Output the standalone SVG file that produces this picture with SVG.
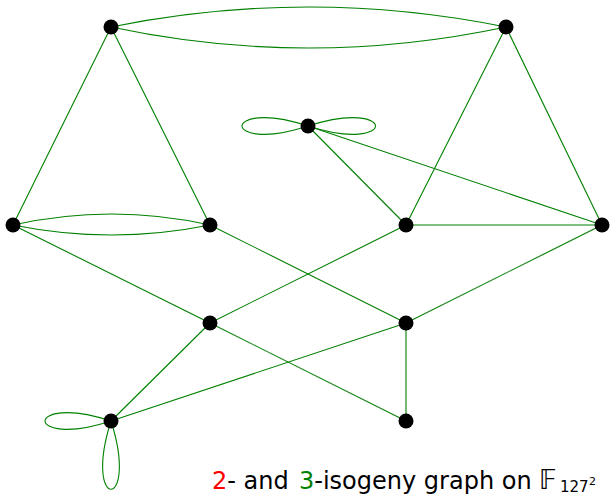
<svg xmlns="http://www.w3.org/2000/svg" width="610" height="497" viewBox="0 0 610 497">
<style>
.e{fill:none;stroke:#008000;stroke-width:1.1}
.n{fill:#000}
.t{font-family:"DejaVu Sans","Liberation Sans",sans-serif;fill:#000}
</style>
<rect width="610" height="497" fill="#fff"/>
<g id="connectors">
<path class="e" d="M111,27 Q308.5,-13 506,27"/>
<path class="e" d="M111,27 Q308.5,69 506,27"/>
<path class="e" d="M111,27 L13,225"/>
<path class="e" d="M111,27 L210,225"/>
<path class="e" d="M506,27 L406,225"/>
<path class="e" d="M506,27 L602,225"/>
<path class="e" d="M308,126 C220,97 220,155 308,126"/>
<path class="e" d="M308,126 C398,97 398,155 308,126"/>
<path class="e" d="M308,126 L406,225"/>
<path class="e" d="M308,126 L602,225"/>
<path class="e" d="M13,225 Q111.5,203 210,225"/>
<path class="e" d="M13,225 Q111.5,245 210,225"/>
<path class="e" d="M13,225 L210,323"/>
<path class="e" d="M210,225 L406,323"/>
<path class="e" d="M406,225 L602,225"/>
<path class="e" d="M406,225 L210,323"/>
<path class="e" d="M602,225 L406,323"/>
<path class="e" d="M210,323 L111,421"/>
<path class="e" d="M210,323 L406,421"/>
<path class="e" d="M406,323 L406,421"/>
<path class="e" d="M406,323 L111,421"/>
<path class="e" d="M111,421 C23,392 23,450 111,421"/>
<path class="e" d="M111,421 C82,512 140,512 111,421"/>
</g>
<g id="nA"><circle class="n" cx="111" cy="27" r="7.5"/></g>
<g id="nB"><circle class="n" cx="506" cy="27" r="7.5"/></g>
<g id="nC"><circle class="n" cx="308" cy="126" r="7.5"/></g>
<g id="nD"><circle class="n" cx="13" cy="225" r="7.5"/></g>
<g id="nE"><circle class="n" cx="210" cy="225" r="7.5"/></g>
<g id="nF"><circle class="n" cx="406" cy="225" r="7.5"/></g>
<g id="nG"><circle class="n" cx="602" cy="225" r="7.5"/></g>
<g id="nH"><circle class="n" cx="210" cy="323" r="7.5"/></g>
<g id="nI"><circle class="n" cx="406" cy="323" r="7.5"/></g>
<g id="nJ"><circle class="n" cx="111" cy="421" r="7.5"/></g>
<g id="nK"><circle class="n" cx="406" cy="421" r="7.5"/></g>
<g id="caption">
<text class="t" font-size="24" y="489"><tspan x="212" fill="#ff0000">2</tspan><tspan>- and </tspan><tspan x="299" fill="#008000">3</tspan><tspan>-isogeny graph on</tspan></text>
<text class="t" font-size="26" x="539" y="489" fill="#222">𝔽</text>
<text class="t" font-size="15" x="560" y="492">127</text>
<text class="t" font-size="11" x="589" y="485">2</text>
</g>
</svg>
